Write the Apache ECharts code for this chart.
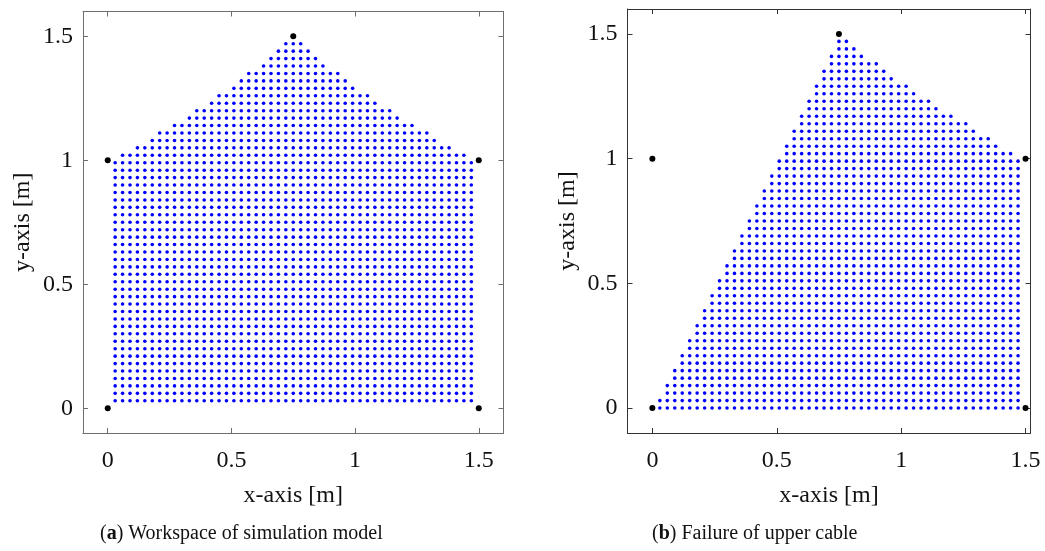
<!DOCTYPE html>
<html>
<head>
<meta charset="utf-8">
<script src="https://cdn.jsdelivr.net/npm/echarts@6/dist/echarts.min.js"></script>
<style>
  html, body { margin: 0; padding: 0; background: #fff; }
  #chart { width: 1045px; height: 551px; }
</style>
</head>
<body>
<div id="chart"></div>
<script>
// sample grid of the workspace [m]
const gridStep = 0.03;
// column numbers, x = col * gridStep
const columns = [1, 2, 3, 4, 5, 6, 7, 8, 9, 10, 11, 12, 13, 14, 15, 16, 17, 18, 19, 20, 21, 22, 23, 24, 25,
  26, 27, 28, 29, 30, 31, 32, 33, 34, 35, 36, 37, 38, 39, 40, 41, 42, 43, 44, 45, 46, 47, 48, 49];

// (a) workspace: highest feasible row of each column, lowest row
const topRowA = [33, 34, 34, 35, 35, 36, 37, 37, 38, 38, 39, 40, 40, 41, 42, 42, 43, 44, 45, 45, 46, 47, 48, 49, 49,
  49, 48, 47, 46, 45, 45, 44, 43, 42, 42, 41, 40, 40, 39, 38, 38, 37, 37, 36, 35, 35, 34, 34, 33];
const bottomRowA = 1;

// (b) failure of upper cable
const topRowB = [1, 3, 5, 7, 9, 11, 13, 15, 17, 19, 21, 23, 25, 27, 29, 31, 33, 35, 37, 39, 41, 43, 45, 47, 49,
  49, 48, 47, 46, 46, 45, 44, 43, 43, 42, 41, 41, 40, 39, 39, 38, 38, 37, 36, 36, 35, 34, 34, 33];
const bottomRowB = 0;

// cable anchor points
const anchorX = [0, 1.5, 1.5, 0.75, 0];
const anchorY = [0, 0, 1, 1.5, 1];

// axis ticks
const tickValues = [0, 0.5, 1, 1.5];
const tickLabels = ['0', '0.5', '1', '1.5'];

const serif = '"Liberation Serif", "DejaVu Serif", serif';

// build the point list of a workspace from its column ranges
function workspacePoints(topRows, bottomRow) {
  const pts = [];
  columns.forEach((c, k) => {
    for (let r = bottomRow; r <= topRows[k]; r++) {
      pts.push([+(c * gridStep).toFixed(2), +(r * gridStep).toFixed(2)]);
    }
  });
  return pts;
}

const anchors = anchorX.map((x, i) => [x, anchorY[i]]);

function labelText(v) {
  const i = tickValues.indexOf(+v.toFixed(2));
  return i >= 0 ? tickLabels[i] : '';
}

// four framed axes for one panel
function panelAxes(gi, xr, yr, color) {
  const line = { show: true, onZero: false, lineStyle: { color: color, width: 1 } };
  const tick = { show: true, inside: true, length: 5, customValues: tickValues, lineStyle: { color: color, width: 1 } };
  const label = {
    customValues: tickValues, formatter: labelText, color: '#111',
    fontFamily: serif, fontSize: 24
  };
  const nameStyle = { fontFamily: serif, fontSize: 24, color: '#111' };
  return {
    x: [
      { type: 'value', gridIndex: gi, position: 'bottom', min: xr[0], max: xr[1],
        axisLine: line, axisTick: tick, axisLabel: Object.assign({ margin: 16 }, label), splitLine: { show: false },
        name: 'x-axis [m]', nameLocation: 'middle', nameGap: 51, nameTextStyle: nameStyle },
      { type: 'value', gridIndex: gi, position: 'top', min: xr[0], max: xr[1],
        axisLine: line, axisTick: tick, axisLabel: { show: false }, splitLine: { show: false } }
    ],
    y: [
      { type: 'value', gridIndex: gi, position: 'left', min: yr[0], max: yr[1],
        axisLine: line, axisTick: tick, axisLabel: Object.assign({ margin: 10 }, label), splitLine: { show: false },
        name: 'y-axis [m]', nameLocation: 'middle', nameGap: 48, nameRotate: 90, nameTextStyle: nameStyle },
      { type: 'value', gridIndex: gi, position: 'right', min: yr[0], max: yr[1],
        axisLine: line, axisTick: tick, axisLabel: { show: false }, splitLine: { show: false } }
    ]
  };
}

const axesA = panelAxes(0, [-0.1, 1.6], [-0.1, 1.6], '#6e6e6e');
const axesB = panelAxes(1, [-0.1, 1.52], [-0.1, 1.6], '#333333');

function dots(xi, yi, data, color, size) {
  return {
    type: 'scatter', xAxisIndex: xi, yAxisIndex: yi, data: data,
    symbol: 'circle', symbolSize: size, itemStyle: { color: color, opacity: 1 },
    silent: true, animation: false
  };
}

// caption under a panel, panel letter in bold
function caption(left, letter, text) {
  const st = { fontFamily: serif, fontSize: 20, fill: '#111' };
  return {
    type: 'text', left: left, top: 524,
    style: {
      text: '{p|(}{b|' + letter + '}{p|) ' + text + '}',
      rich: { p: st, b: Object.assign({}, st, { fontWeight: 'bold' }) }
    }
  };
}

const chart = echarts.init(document.getElementById('chart'), null, { renderer: 'canvas' });

chart.setOption({
  backgroundColor: '#fff',
  animation: false,
  grid: [
    { left: 83, top: 11.5, width: 420.5, height: 421.5 },
    { left: 627.5, top: 9, width: 403, height: 424 }
  ],
  xAxis: axesA.x.concat(axesB.x),
  yAxis: axesA.y.concat(axesB.y),
  series: [
    dots(0, 0, workspacePoints(topRowA, bottomRowA), '#0000ff', 3.6),
    dots(0, 0, anchors, '#000', 6),
    dots(2, 2, workspacePoints(topRowB, bottomRowB), '#0000ff', 3.6),
    dots(2, 2, anchors, '#000', 6)
  ],
  graphic: [
    caption(100, 'a', 'Workspace of simulation model'),
    caption(652, 'b', 'Failure of upper cable')
  ]
});
</script>
</body>
</html>
